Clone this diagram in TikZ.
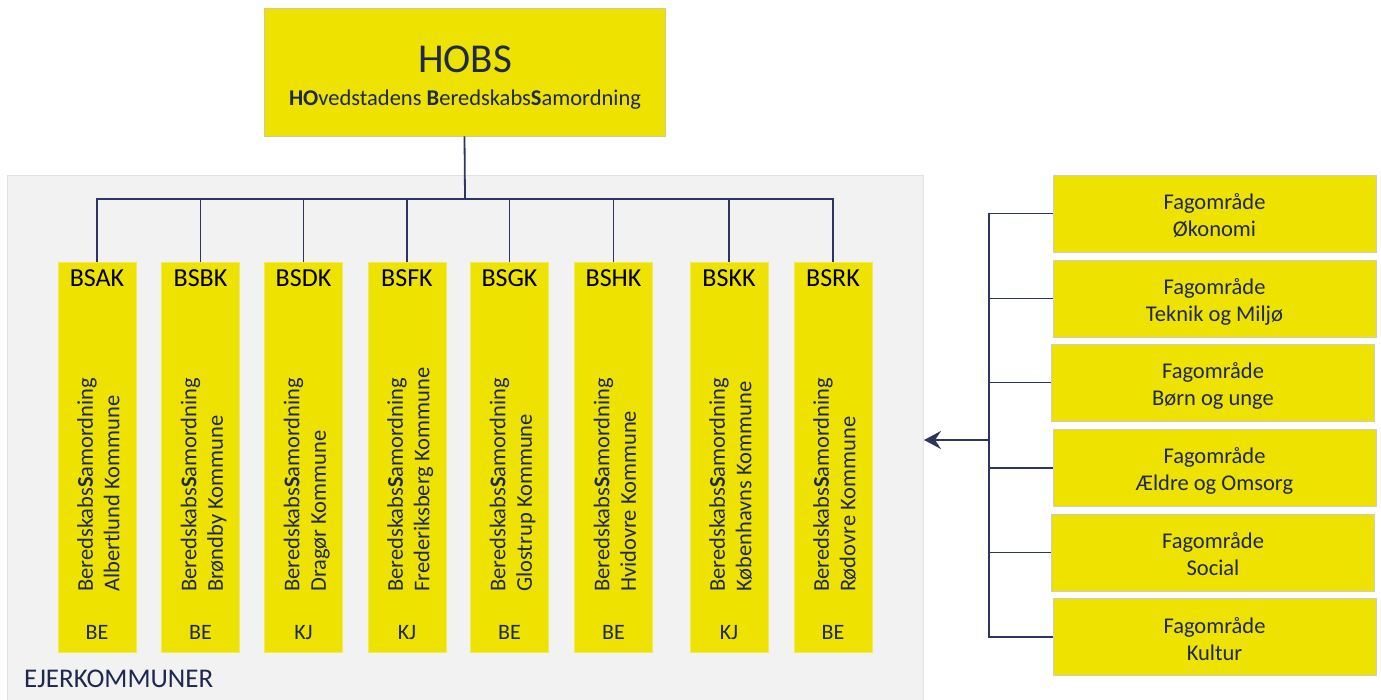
\documentclass[tikz,border=0pt]{standalone}
\usepackage{fontspec}
\setmainfont{Carlito}
\usepackage{xcolor}
\usepackage{tikz}
\usetikzlibrary{arrows.meta}

\definecolor{hobsyellow}{RGB}{238,226,0}
\definecolor{navy}{RGB}{31,40,78}
\definecolor{linenavy}{RGB}{44,54,96}
\definecolor{panelgray}{RGB}{242,242,242}
\definecolor{panelline}{RGB}{226,226,226}
\definecolor{boxline}{RGB}{205,200,160}
\definecolor{kboxline}{RGB}{242,234,90}
\definecolor{fboxline}{RGB}{205,205,195}

\newcommand{\bssam}{Beredskabs\textbf{S}amordning}

\begin{document}
\begin{tikzpicture}[x=1pt,y=1pt,yscale=-1,xscale=1,
  ybox/.style={rectangle,fill=hobsyellow,draw=boxline,line width=0.8pt,inner sep=0pt},
  kbox/.style={ybox,draw=kboxline,minimum width=78pt,minimum height=390pt},
  fbox/.style={ybox,draw=fboxline,minimum width=323pt,minimum height=77pt,align=center,text=navy,font=\fontsize{22.5}{27}\selectfont},
  khead/.style={anchor=base,inner sep=0pt,font=\fontsize{26}{30}\selectfont},
  kname/.style={anchor=west,rotate=90,align=left,inner sep=0pt,text=navy,font=\fontsize{22.5}{26.5}\selectfont},
  ktag/.style={anchor=base,inner sep=0pt,text=navy,font=\fontsize{22}{26}\selectfont},
  link/.style={draw=linenavy,line width=1.3pt}]
        \useasboundingbox (0,0) rectangle (1381,699);
        \draw[fill=panelgray,draw=panelline] (7,175) rectangle (923,705);
        \node[anchor=base west,inner sep=0pt,text=navy,font=\fontsize{27}{32}\selectfont] (ejer) at (24,687) {EJERKOMMUNER};

        \node[ybox,minimum width=401pt,minimum height=128pt] (hobs) at (464.5,72) {};
        \node[anchor=base,inner sep=0pt,text=navy,font=\fontsize{41}{48}\selectfont] (hobsT) at (465,72) {HOBS};
        \node[anchor=base,inner sep=0pt,text=navy,font=\fontsize{22.5}{27}\selectfont] (hobsS) at (465,105) {\textbf{HO}vedstadens \textbf{B}eredskabs\textbf{S}amordning};

        \node[kbox] (bsak) at (97,457) {};
        \node[kbox] (bsbk) at (200.5,457) {};
        \node[kbox] (bsdk) at (303.5,457) {};
        \node[kbox] (bsfk) at (407,457) {};
        \node[kbox] (bsgk) at (509.5,457) {};
        \node[kbox] (bshk) at (613.5,457) {};
        \node[kbox] (bskk) at (729,457) {};
        \node[kbox] (bsrk) at (833,457) {};

        \node[khead] (bsakT) at (97,286) {BSAK};
        \node[khead] (bsbkT) at (200.5,286) {BSBK};
        \node[khead] (bsdkT) at (303.5,286) {BSDK};
        \node[khead] (bsfkT) at (407,286) {BSFK};
        \node[khead] (bsgkT) at (509.5,286) {BSGK};
        \node[khead] (bshkT) at (613.5,286) {BSHK};
        \node[khead] (bskkT) at (729,286) {BSKK};
        \node[khead] (bsrkT) at (833,286) {BSRK};

        \node[kname] (bsakN) at (100.5,592) {\rule{0pt}{17pt}\bssam\\Albertlund Kommune\rule[-6pt]{0pt}{6pt}};
        \node[kname] (bsbkN) at (204,592) {\rule{0pt}{17pt}\bssam\\Brøndby Kommune\rule[-6pt]{0pt}{6pt}};
        \node[kname] (bsdkN) at (307,592) {\rule{0pt}{17pt}\bssam\\Dragør Kommune\rule[-6pt]{0pt}{6pt}};
        \node[kname] (bsfkN) at (410.5,592) {\rule{0pt}{17pt}\bssam\\Frederiksberg Kommune\rule[-6pt]{0pt}{6pt}};
        \node[kname] (bsgkN) at (513,592) {\rule{0pt}{17pt}\bssam\\Glostrup Kommune\rule[-6pt]{0pt}{6pt}};
        \node[kname] (bshkN) at (617,592) {\rule{0pt}{17pt}\bssam\\Hvidovre Kommune\rule[-6pt]{0pt}{6pt}};
        \node[kname] (bskkN) at (732.5,592) {\rule{0pt}{17pt}\bssam\\Københavns Kommune\rule[-6pt]{0pt}{6pt}};
        \node[kname] (bsrkN) at (836.5,592) {\rule{0pt}{17pt}\bssam\\Rødovre Kommune\rule[-6pt]{0pt}{6pt}};

        \node[ktag] (bsakB) at (97,639) {BE};
        \node[ktag] (bsbkB) at (200.5,639) {BE};
        \node[ktag] (bsdkB) at (303.5,639) {KJ};
        \node[ktag] (bsfkB) at (407,639) {KJ};
        \node[ktag] (bsgkB) at (509.5,639) {BE};
        \node[ktag] (bshkB) at (613.5,639) {BE};
        \node[ktag] (bskkB) at (729,639) {KJ};
        \node[ktag] (bsrkB) at (833,639) {BE};

        \coordinate (bus) at (465,199);
        \draw[link,line width=1.8pt] (hobs.south) -- (bus);
        \draw[link] (bsak.north) |- (bus);
        \draw[link] (bsbk.north) |- (bus);
        \draw[link] (bsdk.north) |- (bus);
        \draw[link] (bsfk.north) |- (bus);
        \draw[link] (bsgk.north) |- (bus);
        \draw[link] (bshk.north) |- (bus);
        \draw[link] (bskk.north) |- (bus);
        \draw[link] (bsrk.north) |- (bus);

        \node[fbox] (fag1) at (1214.5,213.5) {\rule{0pt}{22pt}Fagområde\\Økonomi\rule[-3pt]{0pt}{3pt}};
        \node[fbox] (fag2) at (1214.5,298.5) {\rule{0pt}{22pt}Fagområde\\Teknik og Miljø\rule[-3pt]{0pt}{3pt}};
        \node[fbox] (fag3) at (1213,382.5) {\rule{0pt}{22pt}Fagområde\\Børn og unge\rule[-3pt]{0pt}{3pt}};
        \node[fbox] (fag4) at (1214.5,468) {\rule{0pt}{22pt}Fagområde\\Ældre og Omsorg\rule[-3pt]{0pt}{3pt}};
        \node[fbox] (fag5) at (1213,552.5) {\rule{0pt}{22pt}Fagområde\\Social\rule[-3pt]{0pt}{3pt}};
        \node[fbox] (fag6) at (1214.5,637) {\rule{0pt}{22pt}Fagområde\\Kultur\rule[-3pt]{0pt}{3pt}};

        \coordinate (fork) at (989,440);
        \coordinate (tip) at (924,440);
        \draw[link] (fag1.west) -| (fork);
        \draw[link] (fag2.west) -| (fork);
        \draw[link] (fag3.west) -| (fork);
        \draw[link] (fag4.west) -| (fork);
        \draw[link] (fag5.west) -| (fork);
        \draw[link] (fag6.west) -| (fork);
        \draw[draw=linenavy,line width=2.5pt,-{Stealth[length=17pt,width=18pt,inset=6pt]}] (fork) -- (tip);
    \end{tikzpicture}
\end{document}
